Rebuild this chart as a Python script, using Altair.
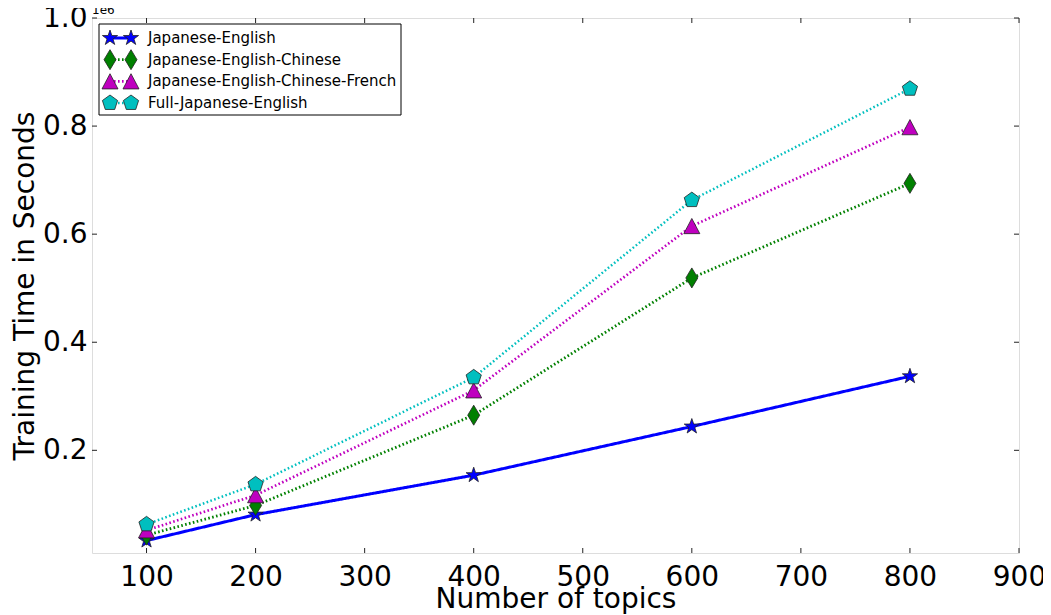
import math
import altair as alt
import pandas as pd

# ---- data ----
topics = [100, 200, 400, 600, 800]
series_names = [
    "Japanese-English",
    "Japanese-English-Chinese",
    "Japanese-English-Chinese-French",
    "Full-Japanese-English",
]
ja_en = [33000, 81000, 154000, 244000, 337000]
ja_en_zh = [43000, 98000, 265000, 519000, 694000]
ja_en_zh_fr = [52000, 117000, 311000, 615000, 798000]
full_ja_en = [63000, 137000, 335000, 663000, 869000]

x_ticks = [100, 200, 300, 400, 500, 600, 700, 800, 900]
y_ticks = [200000, 400000, 600000, 800000, 1000000]

colors = ["#0000ff", "#008000", "#bf00bf", "#00bfbf"]
dashes = [[1, 0], [1.6, 2.4], [1.6, 2.4], [1.6, 2.4]]
widths = [3, 2.5, 2.5, 2.5]


def poly(pts):
    return "M" + "L".join(f"{x:.3f},{y:.3f}" for x, y in pts) + "Z"


star = poly([((1.0 if i % 2 == 0 else 0.39) * math.cos(math.radians(-90 + 36 * i)),
              (1.0 if i % 2 == 0 else 0.39) * math.sin(math.radians(-90 + 36 * i)))
             for i in range(10)])
pent = poly([(math.cos(math.radians(-90 + 72 * i)), math.sin(math.radians(-90 + 72 * i)))
             for i in range(5)])
tri = "M0,-0.95L1,0.95L-1,0.95Z"
diam = "M0,-1.25L0.75,0L0,1.25L-0.75,0Z"
shapes = [star, diam, tri, pent]

values = [ja_en, ja_en_zh, ja_en_zh_fr, full_ja_en]
rows = []
for k, (name, vals) in enumerate(zip(series_names, values)):
    for t, v in zip(topics, vals):
        rows.append({"series": name, "topics": t, "seconds": v, "order": k})
df = pd.DataFrame(rows)

W, H = 927, 535
FONT = "DejaVu Sans"

xscale = alt.Scale(domain=[50, 900], nice=False, zero=False)
yscale = alt.Scale(domain=[10000, 1000000], nice=False, zero=False)

color_enc = alt.Color("series:N", scale=alt.Scale(domain=series_names, range=colors), legend=None)
dash_enc = alt.StrokeDash("series:N", scale=alt.Scale(domain=series_names, range=dashes), legend=None)
width_enc = alt.StrokeWidth("series:N", scale=alt.Scale(domain=series_names, range=widths), legend=None)
shape_enc = alt.Shape("series:N", scale=alt.Scale(domain=series_names, range=shapes), legend=None)
fill_enc = alt.Fill("series:N", scale=alt.Scale(domain=series_names, range=colors), legend=None)

x_enc = alt.X("topics:Q", scale=xscale,
              axis=alt.Axis(values=x_ticks, title="Number of topics", ticks=False, tickSize=0,
                            grid=False, domain=False, labelFontSize=28, labelFont=FONT,
                            labelColor="black", labelPadding=10, titleFontSize=28,
                            titleFont=FONT, titleFontWeight="normal", titleColor="black",
                            titlePadding=-6, labelFlush=False))
y_enc = alt.Y("seconds:Q", scale=yscale,
              axis=alt.Axis(values=y_ticks, title="Training Time in Seconds", ticks=False,
                            tickSize=0, grid=False, domain=False,
                            labelExpr="format(datum.value / 1000000, '.1f')",
                            labelFontSize=28, labelFont=FONT, labelColor="black",
                            labelPadding=5, titleFontSize=28, titleFont=FONT,
                            titleFontWeight="normal", titleColor="black", titlePadding=3,
                            labelFlush=False))

base = alt.Chart(df)
lines = base.mark_line().encode(
    x=x_enc, y=y_enc, color=color_enc, strokeDash=dash_enc, strokeWidth=width_enc,
    detail="series:N", order="topics:Q")
points = base.mark_point(filled=True, opacity=1, size=256, stroke="#222222",
                         strokeWidth=0.8).encode(
    x=alt.X("topics:Q", scale=xscale), y=alt.Y("seconds:Q", scale=yscale),
    fill=fill_enc, shape=shape_enc)

xt = pd.DataFrame({"t": x_ticks})
yt = pd.DataFrame({"v": y_ticks})
tick_col = "#222222"
xtick_b = alt.Chart(xt).mark_rule(color=tick_col, strokeWidth=1).encode(
    x=alt.X("t:Q", scale=xscale), y=alt.value(H), y2=alt.value(H - 5))
xtick_t = alt.Chart(xt).mark_rule(color=tick_col, strokeWidth=1).encode(
    x=alt.X("t:Q", scale=xscale), y=alt.value(0), y2=alt.value(5))
ytick_l = alt.Chart(yt).mark_rule(color=tick_col, strokeWidth=1).encode(
    y=alt.Y("v:Q", scale=yscale), x=alt.value(0), x2=alt.value(5))
ytick_r = alt.Chart(yt).mark_rule(color=tick_col, strokeWidth=1).encode(
    y=alt.Y("v:Q", scale=yscale), x=alt.value(W), x2=alt.value(W - 5))

one = pd.DataFrame({"label": ["1e6"]})
offset_text = alt.Chart(one).mark_text(align="left", baseline="middle", fontSize=12,
                                       font=FONT, color="black").encode(
    x=alt.value(0), y=alt.value(-8), text="label:N")

main = alt.layer(lines, points, xtick_b, xtick_t, ytick_l, ytick_r, offset_text)

# ---- legend (matplotlib style box) ----
leg = pd.DataFrame({"series": series_names, "row": list(range(len(series_names)))})
leg_y = alt.Y("row:Q", scale=alt.Scale(domain=[0, 3], range=[20, 85]), axis=None)
box = alt.Chart(one).mark_rect(fill="white", stroke="black", strokeWidth=1).encode(
    x=alt.value(7), x2=alt.value(309), y=alt.value(6), y2=alt.value(97))
leg_line = alt.Chart(leg).mark_rule().encode(
    x=alt.value(18), x2=alt.value(39), y=leg_y, color=color_enc, strokeDash=dash_enc,
    strokeWidth=width_enc)
leg_pt_l = alt.Chart(leg).mark_point(filled=True, opacity=1, size=256, stroke="#222222",
                                     strokeWidth=0.8).encode(
    x=alt.value(18), y=leg_y, fill=fill_enc, shape=shape_enc)
leg_pt_r = alt.Chart(leg).mark_point(filled=True, opacity=1, size=256, stroke="#222222",
                                     strokeWidth=0.8).encode(
    x=alt.value(39), y=leg_y, fill=fill_enc, shape=shape_enc)
leg_text = alt.Chart(leg).mark_text(align="left", baseline="middle", fontSize=15, font=FONT,
                                    color="black").encode(
    x=alt.value(56), y=leg_y, text="series:N")
legend = alt.layer(box, leg_line, leg_pt_l, leg_pt_r, leg_text)

chart = alt.layer(main, legend).resolve_scale(y="independent").properties(
    width=W, height=H, autosize=alt.AutoSizeParams(type="none"),
    padding={"left": 84, "top": 10, "right": 24, "bottom": 62},
).configure_view(stroke="#000000", strokeWidth=1.2).configure(background="white")

chart.save("out.html", embed_options={"renderer": "svg", "actions": False})
